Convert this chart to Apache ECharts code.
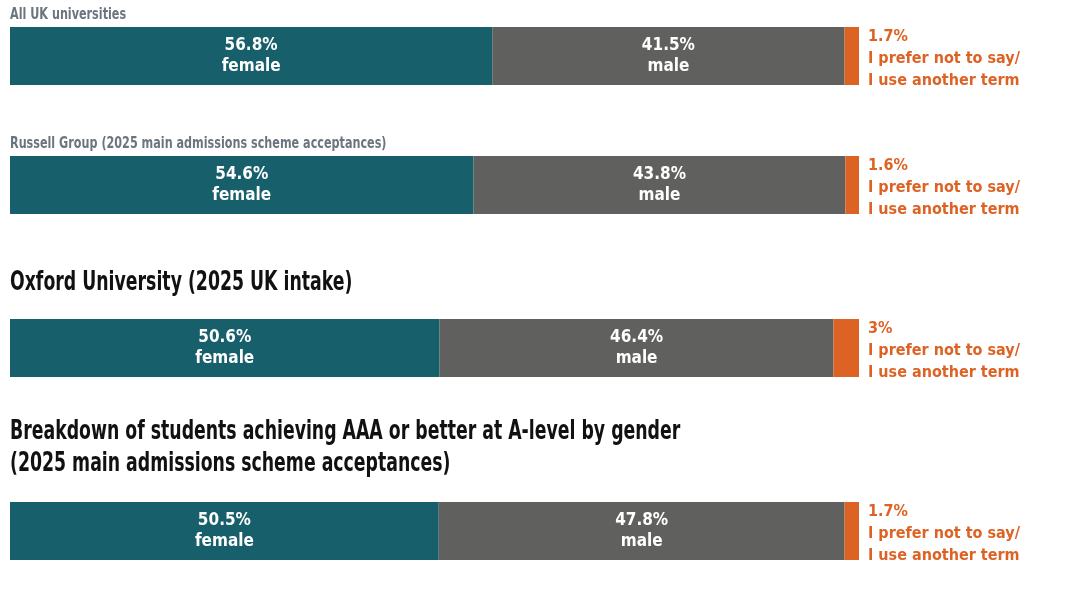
<!DOCTYPE html>
<html>
<head>
<meta charset="utf-8">
<script src="https://cdn.jsdelivr.net/npm/echarts@6/dist/echarts.min.js"></script>
<style>
  html, body { margin: 0; padding: 0; background: #fff; }
  #chart { width: 1071px; height: 606px; }
</style>
</head>
<body>
<div id="chart"></div>
<script>
// values
const groups = [
    'All UK universities',
    'Russell Group (2025 main admissions scheme acceptances)',
    'Oxford University (2025 UK intake)',
    'Breakdown of students achieving AAA or better at A-level by gender\n(2025 main admissions scheme acceptances)'
];
const female = [56.8, 54.6, 50.6, 50.5];
const male = [41.5, 43.8, 46.4, 47.8];
const other = [1.7, 1.6, 3, 1.7];
const otherLabel = 'I prefer not to say/\nI use another term';

const FONT = "'DejaVu Sans Condensed', 'DejaVu Sans', sans-serif";
const TEAL = '#175f6b', GREY = '#60605e', ORANGE = '#dd6325';

// layout
const barTops = [27, 156, 319, 502];
const barH = 58;
const titleTops = [8, 137, 268, 416];
const titleStyles = [
    { fontSize: 15, fill: '#6b7580', lineHeight: 15, scale: 0.83 },
    { fontSize: 15, fill: '#6b7580', lineHeight: 15, scale: 0.83 },
    { fontSize: 26, fill: '#111', lineHeight: 30, scale: 0.74 },
    { fontSize: 26, fill: '#111', lineHeight: 32, scale: 0.74 }
];

const chart = echarts.init(document.getElementById('chart'));

const grids = [], xAxes = [], yAxes = [], series = [], graphics = [];
groups.forEach(function (name, i) {
    const ts = titleStyles[i];
    // titles drawn as graphic text so they can be narrowed like the condensed original
    graphics.push({
        type: 'text', x: 10, y: titleTops[i], scaleX: ts.scale, silent: true,
        style: {
            text: name, fill: ts.fill, fontFamily: FONT, fontWeight: 'bold',
            fontSize: ts.fontSize, lineHeight: ts.lineHeight,
            textAlign: 'left', textVerticalAlign: 'top'
        }
    });
    grids.push({ left: 10, right: 212, top: barTops[i], height: barH });
    xAxes.push({ gridIndex: i, type: 'value', min: 0, max: 100, show: false });
    yAxes.push({ gridIndex: i, type: 'category', data: [name], show: false });

    const inside = function (word) {
        return {
            show: true, position: 'inside', color: '#fff', fontFamily: FONT,
            fontWeight: 'bold', fontSize: 17, lineHeight: 21,
            formatter: function (p) { return p.value + '%\n' + word; }
        };
    };
    const base = { type: 'bar', stack: 's' + i, xAxisIndex: i, yAxisIndex: i, barWidth: barH, silent: true };
    series.push(Object.assign({}, base, {
        name: 'female', data: [female[i]], itemStyle: { color: TEAL }, label: inside('female')
    }));
    series.push(Object.assign({}, base, {
        name: 'male', data: [male[i]], itemStyle: { color: GREY }, label: inside('male')
    }));
    series.push(Object.assign({}, base, {
        name: 'other', data: [other[i]], itemStyle: { color: ORANGE },
        label: {
            show: true, position: 'right', distance: 9, offset: [0, 3],
            color: ORANGE, fontFamily: FONT, fontWeight: 'bold', fontSize: 16, lineHeight: 22,
            formatter: function (p) { return p.value + '%\n' + otherLabel; }
        }
    }));
});

chart.setOption({
    animation: false,
    grid: grids,
    xAxis: xAxes,
    yAxis: yAxes,
    series: series,
    graphic: graphics
});
</script>
</body>
</html>
